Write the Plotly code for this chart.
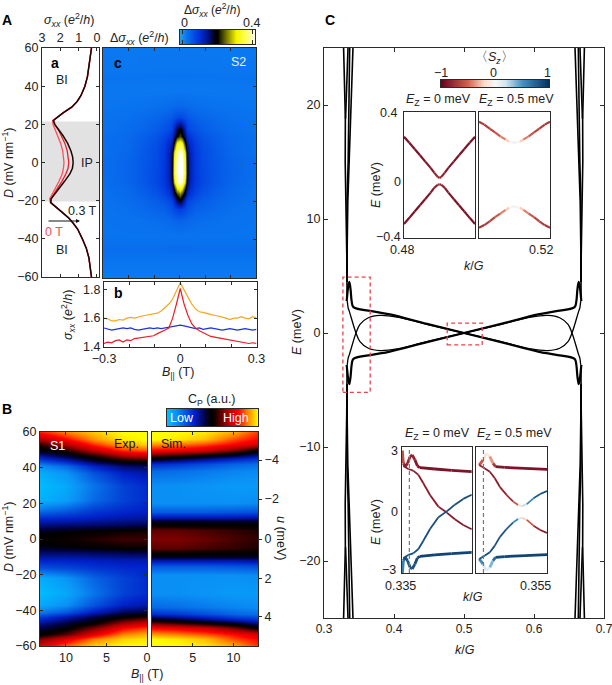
import numpy as np
import plotly.graph_objects as go
from plotly.colors import sample_colorscale

W, H = 612, 685
INK = "#2b2b2b"
FONT = "Liberation Sans"

# panel a: conductance against displacement field
a_D = [60, 55, 50, 45, 40, 35, 32, 29, 26, 24, 22, 20, 17, 14, 10, 6, 3, 0, -3, -6, -10, -14, -17, -19, -21, -23, -26, -29, -32, -35, -40, -45, -50, -55, -60]
a_03T = [0.30, 0.36, 0.43, 0.52, 0.66, 0.88, 1.08, 1.38, 1.85, 2.15, 2.38, 2.30, 2.05, 1.85, 1.60, 1.42, 1.33, 1.30, 1.34, 1.48, 1.78, 2.10, 2.35, 2.50, 2.52, 2.28, 1.90, 1.55, 1.28, 1.05, 0.80, 0.58, 0.44, 0.36, 0.30]
a_mid = [0.30, 0.36, 0.43, 0.52, 0.66, 0.88, 1.08, 1.38, 1.85, 2.15, 2.38, 2.32, 2.10, 1.95, 1.75, 1.62, 1.56, 1.54, 1.58, 1.70, 1.92, 2.18, 2.38, 2.52, 2.52, 2.28, 1.90, 1.55, 1.28, 1.05, 0.80, 0.58, 0.44, 0.36, 0.30]
a_0T = [0.30, 0.36, 0.43, 0.52, 0.66, 0.88, 1.08, 1.38, 1.85, 2.15, 2.42, 2.40, 2.28, 2.12, 1.98, 1.87, 1.82, 1.80, 1.83, 1.90, 2.08, 2.30, 2.46, 2.58, 2.55, 2.28, 1.90, 1.55, 1.28, 1.05, 0.80, 0.58, 0.44, 0.36, 0.30]

# panel b: line cuts
b_B = [-0.3, -0.285, -0.27, -0.255, -0.24, -0.225, -0.21, -0.195, -0.18, -0.165, -0.15, -0.135, -0.12, -0.105, -0.09, -0.075, -0.06, -0.045, -0.03, -0.015, 0,
       0.015, 0.03, 0.045, 0.06, 0.075, 0.09, 0.105, 0.12, 0.135, 0.15, 0.165, 0.18, 0.195, 0.21, 0.225, 0.24, 0.255, 0.27, 0.285, 0.3]
b_orange = [1.60, 1.595, 1.58, 1.58, 1.59, 1.585, 1.60, 1.605, 1.60, 1.61, 1.615, 1.62, 1.625, 1.635, 1.635, 1.65, 1.675, 1.70, 1.735, 1.79, 1.85,
            1.80, 1.745, 1.70, 1.665, 1.645, 1.64, 1.63, 1.625, 1.62, 1.615, 1.61, 1.60, 1.59, 1.60, 1.60, 1.61, 1.60, 1.595, 1.61, 1.60]
b_red = [1.42, 1.43, 1.425, 1.44, 1.445, 1.43, 1.445, 1.44, 1.455, 1.46, 1.46, 1.465, 1.47, 1.475, 1.49, 1.50, 1.515, 1.53, 1.60, 1.70, 1.81,
         1.70, 1.62, 1.56, 1.53, 1.51, 1.495, 1.48, 1.47, 1.465, 1.46, 1.455, 1.45, 1.45, 1.44, 1.435, 1.43, 1.425, 1.42, 1.425, 1.42]
b_blue = [1.53, 1.525, 1.515, 1.52, 1.525, 1.53, 1.525, 1.53, 1.52, 1.515, 1.52, 1.525, 1.53, 1.525, 1.53, 1.525, 1.53, 1.535, 1.54, 1.54, 1.55,
          1.545, 1.54, 1.53, 1.525, 1.53, 1.52, 1.525, 1.53, 1.525, 1.52, 1.515, 1.52, 1.525, 1.52, 1.515, 1.52, 1.525, 1.52, 1.515, 1.52]

# panel c: delta sigma, |B| columns mirrored around zero field
c_B = [0, 0.01, 0.02, 0.03, 0.04, 0.06, 0.09, 0.13, 0.2, 0.3]
c_D = [60, 52, 45, 38, 30, 24, 20, 18, 14, 10, 5, 0, -5, -10, -13, -16, -20, -24, -30, -38, -45, -52, -60]
c_rows = [
    [.032, .032, .032, .032, .032, .032, .032, .032, .032, .032],
    [.034, .034, .034, .034, .034, .034, .033, .033, .032, .033],
    [.036, .036, .036, .036, .036, .036, .036, .036, .036, .036],
    [.032, .032, .032, .032, .032, .032, .032, .032, .033, .033],
    [.048, .048, .046, .045, .044, .042, .040, .038, .036, .035],
    [.078, .075, .070, .064, .060, .054, .050, .046, .040, .037],
    [.150, .135, .105, .082, .074, .066, .058, .050, .043, .038],
    [.190, .170, .120, .085, .076, .068, .060, .052, .044, .038],
    [.225, .200, .150, .110, .094, .080, .068, .058, .047, .040],
    [.340, .320, .210, .140, .112, .090, .074, .062, .048, .040],
    [.395, .380, .290, .170, .122, .094, .078, .064, .050, .040],
    [.400, .400, .310, .180, .126, .095, .078, .066, .052, .042],
    [.400, .400, .320, .180, .126, .096, .080, .066, .052, .042],
    [.395, .380, .280, .170, .122, .094, .080, .066, .052, .040],
    [.330, .300, .210, .145, .112, .090, .075, .062, .048, .040],
    [.250, .220, .170, .120, .098, .082, .068, .058, .047, .038],
    [.180, .160, .110, .084, .076, .068, .060, .052, .044, .038],
    [.090, .085, .078, .070, .064, .056, .052, .048, .041, .037],
    [.052, .052, .050, .048, .046, .044, .042, .040, .038, .036],
    [.036, .036, .036, .036, .036, .036, .036, .036, .036, .036],
    [.044, .044, .044, .044, .044, .042, .042, .042, .042, .042],
    [.034, .034, .034, .034, .034, .034, .034, .034, .034, .034],
    [.030, .030, .030, .030, .030, .030, .030, .030, .030, .030],
]
c_scale = [[0, "#2a9fdf"], [0.08, "#0a78f0"], [0.25, "#0033dd"], [0.38, "#001080"], [0.47, "#000000"], [0.5, "#000000"],
           [0.62, "#7a7a00"], [0.75, "#f5f500"], [0.88, "#ffff60"], [1, "#ffffff"]]

# panel B: capacitance maps, normalised 0 to 1
cp_scale = [[0, "#00c0ff"], [0.1, "#0a90f5"], [0.3, "#0020c8"], [0.42, "#000040"], [0.48, "#000000"], [0.52, "#100000"],
            [0.65, "#a00000"], [0.78, "#ff0000"], [0.88, "#ff8000"], [1, "#ffff00"]]
exp_B = [13.2, 10, 6.5, 3, 0]
exp_D = [60, 56, 53, 50, 47, 44, 41, 37, 30, 22, 16, 12, 8, 4, 0, -4, -8, -12, -16, -22, -30, -37, -41, -44, -47, -50, -53, -56, -60]
exp_rows = [
    [.80, .88, .95, 1, 1], [.68, .78, .90, .98, 1], [.55, .68, .82, .92, .96], [.47, .54, .70, .82, .85], [.36, .44, .55, .68, .72],
    [.22, .30, .42, .50, .52], [.10, .17, .30, .38, .40], [.04, .09, .21, .30, .33], [.01, .05, .15, .24, .28], [.03, .07, .17, .24, .28],
    [.15, .19, .25, .28, .30], [.28, .29, .31, .33, .34], [.37, .38, .39, .40, .41], [.46, .48, .50, .52, .53], [.49, .51, .54, .56, .56],
    [.46, .48, .50, .52, .52], [.38, .38, .39, .40, .41], [.30, .30, .31, .32, .32], [.21, .23, .26, .28, .29], [.04, .09, .18, .24, .28],
    [.01, .05, .15, .24, .28], [.05, .10, .21, .30, .33], [.14, .20, .31, .40, .42], [.25, .33, .42, .50, .55], [.35, .42, .50, .65, .72],
    [.42, .48, .62, .78, .83], [.48, .58, .74, .88, .92], [.62, .74, .88, .96, .98], [.74, .86, .96, 1, 1],
]
sim_B = [0, 3, 6.5, 10, 13]
sim_D = [60, 56, 53, 50, 47, 45, 42, 38, 30, 20, 15, 12, 10, 8, 5, 0]  # mirrored below zero
sim_rows = [
    [1, 1, .98, .92, .82], [1, .98, .94, .84, .78], [.90, .88, .84, .78, .72], [.78, .76, .72, .62, .50], [.60, .56, .50, .44, .36],
    [.46, .42, .36, .30, .26], [.28, .26, .22, .18, .16], [.17, .16, .14, .12, .11], [.10, .10, .09, .08, .08], [.10, .10, .10, .10, .11],
    [.20, .20, .20, .21, .22], [.34, .34, .34, .34, .35], [.44, .44, .44, .44, .44], [.50, .50, .49, .49, .48], [.59, .59, .57, .55, .53],
    [.62, .62, .60, .57, .55],
]
u_tick_D = [44.3, 22.4, 0, -22.4, -43.7]
u_tick_labels = ["−4", "−2", "0", "2", "4"]

# panel C: band structure, one corner only, mirrored in k and E
edge_curves = [
    ([.328, .3292, .3305, .3303, .3315, .3325, .3328, .3330], [25, 21, 18.8, 15, 11.5, 7, 4.5, 3]),
    ([.3343, .3325, .3308], [25, 22, 18.8]),
    ([.3367, .3358, .3345, .3330, .3328, .3330], [25, 20, 15, 11.5, 7, 4.5]),
    ([.3414, .3385, .3360, .3340, .3330, .3330], [25, 20, 15, 11.5, 7, 4.5]),
]
main_k = [.3324, .3347, .3362, .338, .3395, .342, .37, .394, .447, .5]
main_E = [2.8, 4.1, 4.48, 3.8, 2.8, 2.27, 1.9, 1.63, .8, 0]
loop_k = [.3333, .3345, .3362, .3457, .3514, .3633, .38, .404, .447, .5]
loop_E = [2.8, 2.2, 1.9, 0, -.76, -1.34, -1.54, -1.4, -.76, 0]

# upper insets, half of each band, mirrored around k/G = 0.5
top_k = [.48, .483, .486, .489, .492, .495, .497, .499, .5]
top0_up = [.243, .205, .165, .125, .085, .045, .015, -.012, -.019]
top0_dn = [-.311, -.272, -.232, -.192, -.152, -.112, -.082, -.062, -.059]
top0_sz = [-.9, -.9, -.9, -.9, -.9, -.88, -.85, -.8, -.78]
top5_up = [.338, .32, .295, .27, .245, .225, .212, .206, .205]
top5_dn = [-.335, -.318, -.295, -.268, -.245, -.222, -.208, -.201, -.2]
top5_sz = [-.72, -.7, -.66, -.6, -.5, -.35, -.12, .06, .1]

# lower insets, Ez = 0
low0_bump_k = [.3351, .3354, .3359, .3366, .3373, .3379, .3387, .3394, .3401, .3444, .3492, .3549]
low0_bump_E = [3.1, 2.46, 2.29, 2.46, 2.79, 2.88, 2.63, 2.32, 2.24, 2.17, 2.1, 2.04]
low0_bump_sz = [-.45, -.75, -.85, -.85, -.8, -.8, -.85, -.88, -.9, -.9, -.9, -.9]
low0_fall_k = [.3354, .3368, .3382, .3397, .3411, .343, .3454, .3478, .3501, .3525, .3549]
low0_fall_E = [2.32, 2.17, 2.09, 1.87, 1.45, .86, .27, -.03, -.37, -.66, -.87]
low0_fall_sz = [-.85, -.85, -.85, -.85, -.85, -.85, -.85, -.85, -.85, -.85, -.85]
# lower insets, Ez = 0.5
low5_bump_k = [.3359, .337, .3379, .3389, .3398, .3405, .3431, .3488, .355]
low5_bump_E = [2.37, 2.63, 2.96, 2.8, 2.45, 2.29, 2.25, 2.2, 2.15]
low5_bump_sz = [-.8, -.3, 0, -.2, -.55, -.85, -.9, -.9, -.9]
low5_fall_k = [.3359, .3375, .3389, .3403, .3417, .3436, .3455, .3469, .3479, .3493, .3512, .3531, .355]
low5_fall_E = [2.37, 2.2, 2.03, 1.7, 1.27, .86, .52, .35, .3, .4, .69, .91, 1.06]
low5_fall_sz = [-.8, -.85, -.85, -.85, -.85, -.8, -.7, -.4, .05, .4, .7, .85, .9]
sz_scale = [[0, "#67001f"], [.25, "#d6604d"], [.4, "#fddbc7"], [.5, "#f7f7f7"], [.6, "#d1e5f0"], [.75, "#4393c3"], [1, "#053061"]]

fig = go.Figure()
n_axes = 0


def add_axes(x0, x1, y0, y1, xopts=None, yopts=None):
    # pixel box to a pair of plotly axes
    global n_axes
    n_axes += 1
    base = dict(showline=True, mirror=True, linecolor=INK, linewidth=1, showgrid=False, zeroline=False,
                ticks="", showticklabels=False, ticklen=3, tickcolor=INK, tickfont=dict(size=12.5, color="#222"))
    xa = dict(base, domain=[x0 / W, x1 / W], anchor=f"y{n_axes}")
    ya = dict(base, domain=[1 - y1 / H, 1 - y0 / H], anchor=f"x{n_axes}")
    xa.update(xopts or {})
    ya.update(yopts or {})
    fig.update_layout(**{f"xaxis{n_axes}": xa, f"yaxis{n_axes}": ya})
    return f"x{n_axes}", f"y{n_axes}"


def label(x, y, text, size=12.5, color="#222", angle=0, anchor="center"):
    fig.add_annotation(x=x / W, y=1 - y / H, xref="paper", yref="paper", text=text, showarrow=False,
                       font=dict(size=size, color=color, family=FONT), textangle=angle, xanchor=anchor, yanchor="middle")


def line(xa, ya, x, y, color="#000", width=1.3, dash=None, shape="linear"):
    fig.add_trace(go.Scatter(x=x, y=y, mode="lines", xaxis=xa, yaxis=ya, hoverinfo="skip",
                             line=dict(color=color, width=width, dash=dash, shape=shape)))


def sz_line(xa, ya, k, E, sz, width=2.2):
    # one short trace per segment, plotly lines have a single colour
    for i in range(len(k) - 1):
        mid = (sz[i] + sz[i + 1]) / 2
        col = sample_colorscale(sz_scale, [(mid + 1) / 2])[0]
        line(xa, ya, k[i:i + 2], E[i:i + 2], col, width)


def strip(x0, x1, y0, y1, scale, lo, hi, xopts=None):
    xa, ya = add_axes(x0, x1, y0, y1, dict(range=[lo, hi], **(xopts or {})), dict(range=[0, 1], linewidth=1.2))
    vals = np.linspace(lo, hi, 150)
    fig.add_trace(go.Heatmap(x=vals, y=[0, 1], z=[vals, vals], colorscale=scale, zmin=lo, zmax=hi, showscale=False,
                             xaxis=xa, yaxis=ya, hoverinfo="skip"))


# ---- panel a
D_ticks = [60, 40, 20, 0, -20, -40, -60]
xa, ya = add_axes(42, 99, 48, 277,
                  dict(range=[3.0, -0.11], side="top", ticks="inside", mirror="ticks", showticklabels=True, tickvals=[3, 2, 1, 0], ticklen=3),
                  dict(range=[-60, 60], ticks="inside", mirror="ticks", showticklabels=True, tickvals=D_ticks, ticklen=3))
fig.add_shape(type="rect", xref=xa, yref=ya, x0=3.0, x1=-0.11, y0=-20.5, y1=21.5, fillcolor="#e2e2e2", line_width=0, layer="below")
line(xa, ya, a_0T, a_D, "#ff5060", 1.3)
line(xa, ya, a_mid, a_D, "#e8202a", 1.3)
line(xa, ya, a_03T, a_D, "#1a0505", 1.5)

# ---- panel c
cz = [row[:0:-1] + row for row in c_rows]
cx = [-b for b in c_B[:0:-1]] + c_B
xa, ya = add_axes(103, 256, 48, 278,
                  dict(range=[-0.3, 0.3], ticks="inside", tickvals=[-0.2, -0.1, 0, 0.1, 0.2], mirror="ticks", linewidth=1.2),
                  dict(range=[-60, 60], ticks="inside", side="right", tickvals=D_ticks, linewidth=1.2))
fig.add_trace(go.Heatmap(x=cx, y=c_D, z=cz, colorscale=c_scale, zmin=0, zmax=0.4, zsmooth="best", showscale=False,
                         xaxis=xa, yaxis=ya, hoverinfo="skip"))

strip(180, 255, 30, 44, c_scale, -0.015, 0.415, dict(ticks="inside", mirror="ticks", tickvals=[0, 0.4], ticklen=4))

# ---- panel b
xa, ya = add_axes(104, 256.5, 282, 347,
                  dict(range=[-0.3, 0.3], ticks="inside", mirror="ticks", showticklabels=True,
                       tickvals=[-0.3, -0.2, -0.1, 0, 0.1, 0.2, 0.3], ticktext=["−0.3", "", "", "0", "", "", "0.3"]),
                  dict(range=[1.395, 1.856], ticks="inside", mirror="ticks", showticklabels=True,
                       tickvals=[1.4, 1.6, 1.8], ticktext=["1.4", "1.6", "1.8"]))
line(xa, ya, b_B, b_orange, "#f9a51a", 1.2)
line(xa, ya, b_B, b_blue, "#2030e0", 1.2)
line(xa, ya, b_B, b_red, "#ee1c25", 1.2)

# ---- panel B
xa, ya = add_axes(40, 147, 432, 646,
                  dict(range=[13.2, 0], ticks="inside", showticklabels=True, tickvals=[10, 5, 0], mirror="ticks", linewidth=1.2),
                  dict(range=[-60, 60], ticks="inside", showticklabels=True, tickvals=D_ticks, mirror="ticks", linewidth=1.2))
fig.add_trace(go.Heatmap(x=exp_B, y=exp_D, z=exp_rows, colorscale=cp_scale, zmin=0, zmax=1, zsmooth="best", showscale=False,
                         xaxis=xa, yaxis=ya, hoverinfo="skip"))
xa, ya = add_axes(152, 258, 432, 646,
                  dict(range=[0, 13], ticks="inside", showticklabels=True, tickvals=[5, 10], mirror="ticks", linewidth=1.2),
                  dict(range=[-60, 60], ticks="outside", side="right", showticklabels=True, tickvals=u_tick_D, ticktext=u_tick_labels, linewidth=1.2))
sim_full_D = sim_D + [-d for d in sim_D[-2::-1]]
sim_full = sim_rows + sim_rows[-2::-1]
fig.add_trace(go.Heatmap(x=sim_B, y=sim_full_D, z=sim_full, colorscale=cp_scale, zmin=0, zmax=1, zsmooth="best", showscale=False,
                         xaxis=xa, yaxis=ya, hoverinfo="skip"))
strip(167, 258, 409, 426, cp_scale, 0, 1)

# ---- panel C
xa, ya = add_axes(324, 604, 48, 618,
                  dict(range=[0.3, 0.7], ticks="inside", mirror="ticks", showticklabels=True, tickvals=[0.3, 0.4, 0.5, 0.6, 0.7], ticktext=["0.3", "0.4", "0.5", "0.6", "0.7"], ticklen=4,
                       ticklabeloverflow="allow", tickfont=dict(size=12, color="#222")),
                  dict(range=[-25, 25], ticks="inside", mirror="ticks", showticklabels=True, tickvals=[20, 10, 0, -10, -20], ticklen=4))
for curves, width, shape in ((edge_curves, 1.6, "linear"), ([(main_k, main_E)], 2.2, "spline"), ([(loop_k, loop_E)], 1.3, "spline")):
    for k, E in curves:
        for k_flip in (False, True):
            for E_sign in (1, -1):
                kk = [1 - v for v in k] if k_flip else k
                line(xa, ya, kk, [E_sign * v for v in E], "#000", width, shape=shape)
for x0, x1, y0, y1 in ((0.327, 0.366, -5.2, 4.9), (0.476, 0.526, -1.05, 0.87)):
    fig.add_shape(type="rect", xref=xa, yref=ya, x0=x0, x1=x1, y0=y0, y1=y1, line=dict(color="#e8444a", width=1.3, dash="4px,3px"))

strip(441, 549, 80, 87, sz_scale, -1, 1)

# upper insets
full_k = top_k + [1 - v for v in top_k[-2::-1]]
mirror = lambda v: v + v[-2::-1]
for x0, x1, up, dn, sz in ((404, 475, top0_up, top0_dn, top0_sz), (479, 550, top5_up, top5_dn, top5_sz)):
    xa, ya = add_axes(x0, x1, 112, 238, dict(range=[0.48, 0.52]), dict(range=[-0.4, 0.4]))
    sz_line(xa, ya, full_k, mirror(up), mirror(sz))
    sz_line(xa, ya, full_k, mirror(dn), mirror(sz))

# lower insets
panels = ((402, 472, .3371, low0_bump_k, low0_bump_E, low0_bump_sz, low0_fall_k, low0_fall_E, low0_fall_sz),
          (476, 547, .3371, low5_bump_k, low5_bump_E, low5_bump_sz, low5_fall_k, low5_fall_E, low5_fall_sz))
for x0, x1, k_dash, bk, bE, bs, fk, fE, fs in panels:
    xa, ya = add_axes(x0, x1, 447, 573, dict(range=[0.335, 0.355]), dict(range=[-3.08, 3.28]))
    fig.add_shape(type="line", xref=xa, yref=ya, x0=k_dash, x1=k_dash, y0=-3.08, y1=3.28, line=dict(color="#777", width=1.2, dash="4px,3px"))
    sz_line(xa, ya, bk, bE, bs, 2.8)
    sz_line(xa, ya, bk, [-v for v in bE], [-v for v in bs], 2.8)
    sz_line(xa, ya, fk, fE, fs, 1.8)
    sz_line(xa, ya, fk, [-v for v in fE], [-v for v in fs], 1.8)

# ---- texts
sig = "<i>σ</i><sub><i>xx</i></sub>"
label(7, 20, "<b>A</b>", 14, "#000")
label(7, 409, "<b>B</b>", 14, "#000")
label(330, 20, "<b>C</b>", 14, "#000")
label(69, 20, sig + " (<i>e</i><sup>2</sup>/<i>h</i>)")
label(139, 38, "Δ" + sig + " (<i>e</i><sup>2</sup>/<i>h</i>)")
label(212, 10, "Δ" + sig + " (<i>e</i><sup>2</sup>/<i>h</i>)", 12)
label(184, 23, "0")
label(251, 23, "0.4")
label(8, 163, "<i>D</i> (mV nm<sup>−1</sup>)", angle=-90)
label(55, 63, "<b>a</b>", 14, "#000")
label(118, 63, "<b>c</b>", 14, "#000")
label(118, 293, "<b>b</b>", 14, "#000")
label(238, 62, "S2", color="#e8f0ff")
label(62, 80, "BI")
label(87, 163, "IP")
label(62, 250, "BI")
label(82, 211, "0.3 T")
label(54, 232, "0 T", color="#f0505a")
fig.add_annotation(x=80 / W, y=1 - 221 / H, xref="paper", yref="paper", ax=-33, ay=0, text="", showarrow=True,
                   arrowhead=2, arrowsize=0.8, arrowwidth=1, arrowcolor="#111")
label(68, 315, sig + " (<i>e</i><sup>2</sup>/<i>h</i>)", angle=-90)
label(178, 373, "<i>B</i><sub>||</sub> (T)")
label(212, 400, "C<sub>P</sub> (a.u.)")
label(182, 418, "Low", color="#fff")
label(236, 418, "High", color="#fff")
label(57, 446, "S1", color="#fff")
label(126, 444, "Exp.", color="#111")
label(173, 444, "Sim.", color="#111")
label(8, 537, "<i>D</i> (mV nm<sup>−1</sup>)", angle=-90)
label(281, 538, "<i>u</i> (meV)", angle=90)
label(147, 675, "<i>B</i><sub>||</sub> (T)")
label(297, 332, "<i>E</i> (meV)", angle=-90)
label(465, 650, "<i>k</i>/<i>G</i>")
label(494, 58, "〈<i>S</i><sub><i>z</i></sub>〉")
label(441, 73, "−1")
label(493, 73, "0")
label(547, 73, "1")
label(438, 100, "<i>E</i><sub>Z</sub> = 0 meV")
label(516, 100, "<i>E</i><sub>Z</sub> = 0.5 meV")
label(388, 113, "0.4")
label(397, 182, "0")
label(388, 237, "−0.4")
label(376, 185, "<i>E</i> (meV)", angle=-90)
label(402, 250, "0.48")
label(541, 250, "0.52")
label(474, 266, "<i>k</i>/<i>G</i>")
label(437, 434, "<i>E</i><sub>Z</sub> = 0 meV")
label(514, 434, "<i>E</i><sub>Z</sub> = 0.5 meV")
label(394, 451, "3")
label(394, 512, "0")
label(389, 570, "−3")
label(376, 522, "<i>E</i> (meV)", angle=-90)
label(400, 586, "0.335")
label(535, 586, "0.355")
label(473, 597, "<i>k</i>/<i>G</i>")

fig.update_layout(width=W, height=H, margin=dict(l=0, r=0, t=0, b=0, autoexpand=False), showlegend=False, plot_bgcolor="white", paper_bgcolor="white",
                  font=dict(family=FONT, size=12.5, color="#222"))
fig.write_html("out.html", post_script="document.body.style.margin='0';", config={"displayModeBar": False})
